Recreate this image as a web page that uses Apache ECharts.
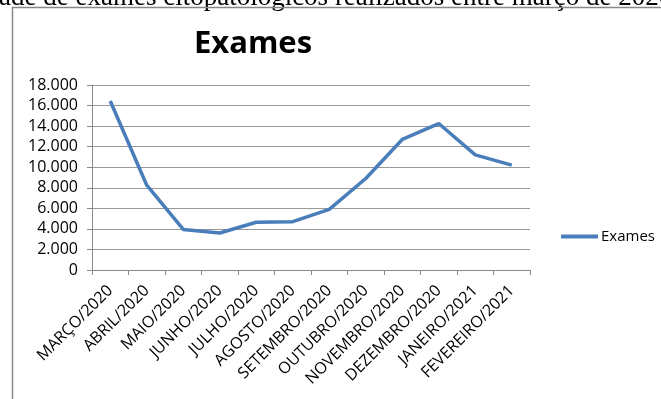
<!DOCTYPE html>
<html>
<head>
<meta charset="utf-8">
<script src="https://cdn.jsdelivr.net/npm/echarts@6/dist/echarts.min.js"></script>
<style>html,body{margin:0;padding:0;background:#fff;}#c{width:661px;height:399px;}</style>
</head>
<body>
<div id="c"></div>
<script>
const categories = ['MARÇO/2020','ABRIL/2020','MAIO/2020','JUNHO/2020','JULHO/2020','AGOSTO/2020','SETEMBRO/2020','OUTUBRO/2020','NOVEMBRO/2020','DEZEMBRO/2020','JANEIRO/2021','FEVEREIRO/2021'];
const exames = [16450, 8250, 3950, 3600, 4650, 4700, 5900, 8900, 12700, 14250, 11200, 10200];
const seriesName = 'Exames';
const titleText = 'Exames';
const captionText = 'ade de exames citopatológicos realizados entre março de 2020 e fevereiro de 2021';

const chart = echarts.init(document.getElementById('c'));
chart.setOption({
  animation: false,
  backgroundColor: '#fff',
  title: {
    text: titleText,
    left: 248, top: 24,
    textAlign: 'center',
    textStyle: {fontFamily: 'Open Sans', fontWeight: 'bold', fontSize: 31, color: '#000'}
  },
  legend: {
    data: [seriesName],
    left: 556, top: 224,
    icon: 'rect',
    itemWidth: 37, itemHeight: 4,
    itemGap: 5,
    textStyle: {fontFamily: 'Open Sans', fontSize: 15, color: '#000', padding: [0,0,0,-2]}
  },
  grid: {left: 92, right: 131, top: 85, bottom: 129, containLabel: false},
  xAxis: {
    type: 'category',
    data: categories,
    boundaryGap: true,
    axisLine: {lineStyle: {color: '#888', width: 1}},
    axisTick: {show: true, length: 5, alignWithLabel: false, lineStyle: {color: '#888'}},
    axisLabel: {rotate: 45, interval: 0, margin: 18, fontFamily: 'Open Sans', fontSize: 16, color: '#000'}
  },
  yAxis: {
    type: 'value',
    min: 0, max: 18000, interval: 2000,
    axisLine: {show: true, lineStyle: {color: '#888', width: 1}},
    axisTick: {show: true, inside: false, length: 5, lineStyle: {color: '#888'}},
    splitLine: {lineStyle: {color: '#999', width: 1}},
    axisLabel: {
      margin: 14, fontFamily: 'Open Sans', fontSize: 16, color: '#000',
      formatter: v => v === 0 ? '0' : v.toLocaleString('de-DE')
    }
  },
  series: [{
    name: seriesName,
    type: 'line',
    data: exames,
    symbol: 'none',
    lineStyle: {color: '#4a7ebb', width: 3.5},
    itemStyle: {color: '#4a7ebb'}
  }],
  graphic: [
    {type: 'text', left: -1, top: -16, z: 10,
     style: {text: captionText, font: '27px "Liberation Serif"', fill: '#000'}},
    {type: 'polyline', z: 10,
     shape: {points: [[12.5, 399], [12.5, 7.5], [661, 7.5]]},
     style: {stroke: '#888', lineWidth: 1.5, fill: null}}
  ]
});
</script>
</body>
</html>
